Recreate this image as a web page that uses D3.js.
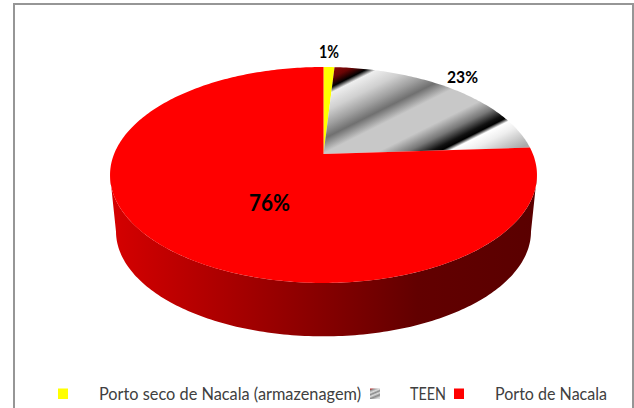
<!DOCTYPE html>
<html><head><meta charset="utf-8">
<script src="https://cdn.jsdelivr.net/npm/d3@7/dist/d3.min.js"></script>
<style>html,body{margin:0;padding:0;background:#fff}svg{display:block}text{font-family:Lato,sans-serif}</style>
</head><body><div id="c"></div>
<script>
const categories=["Porto seco de Nacala (armazenagem)","TEEN","Porto de Nacala"];
const values=[1,23,76];
const labels=["1%","23%","76%"];
const colors=["#ffff00","url(#teen)","#ff0000"];

const W=634,H=408;
const svg=d3.select("#c").append("svg").attr("width",W).attr("height",H);
const defs=svg.append("defs");

// border
svg.append("path").attr("d",`M14,${H} V4 H633 V${H}`).attr("fill","none").attr("stroke","#969696").attr("stroke-width",2);

// projection of the tilted disc
const cx=323.5,cy=154,A=103.9,B=0.1944,D=209.4;
const project=(a,z=0)=>{
  const u=Math.sin(a),v=-Math.cos(a),w=1-B*v,s=1-z*0.028;
  return [cx+D*u/w*s, cy+A*v/w*s+z*57];
};
const pie=d3.pie().sort(null).value(d=>d)(values);
const sample=(a0,a1,z=0)=>{
  const n=Math.max(2,Math.ceil(Math.abs(a1-a0)*60));
  return d3.range(n+1).map(i=>project(a0+(a1-a0)*i/n,z));
};
const line=d3.line();

// side wall
const sideGrad=defs.append("linearGradient").attr("id","side").attr("gradientUnits","userSpaceOnUse")
  .attr("x1",110).attr("x2",537).attr("y1",0).attr("y2",0);
[[0,"#d60000"],[0.72,"#620000"],[1,"#5a0000"]].forEach(s=>sideGrad.append("stop").attr("offset",s[0]).attr("stop-color",s[1]));
const a0=Math.PI/2+0.196,a1=Math.PI*1.5-0.196;
svg.append("path").attr("d",line([...sample(a0,a1,0),...sample(a1,a0,1)])+"Z").attr("fill","url(#side)");

// striped gradient for TEEN
const t0=210,t1=365,nx=0.447,ny=0.894;
const stripeStops=[[210,"#8a0808"],[218,"#6a0505"],[226,"#000000"],[231,"#eeeeee"],[245,"#d0d0d0"],[258,"#a0a0a0"],[269,"#707070"],[282,"#c8c8c8"],[305,"#c8c8c8"],[318,"#777777"],[328,"#111111"],[332,"#000000"],[336,"#ffffff"],[345,"#eeeeee"],[365,"#aaaaaa"]];
stripeStops.forEach((s,i,all)=>0);
const teenGrad=defs.append("linearGradient").attr("id","teen").attr("gradientUnits","userSpaceOnUse")
  .attr("x1",t0*nx).attr("y1",t0*ny).attr("x2",t1*nx).attr("y2",t1*ny);
stripeStops.forEach(s=>teenGrad.append("stop").attr("offset",(s[0]-t0)/(t1-t0)).attr("stop-color",s[1]));
const swatchStops=[[0,"#b03030"],[0.12,"#999999"],[0.3,"#dddddd"],[0.45,"#888888"],[0.6,"#dddddd"],[0.78,"#888888"],[1,"#dddddd"]];
const teenSwatch=defs.append("linearGradient").attr("id","teenL").attr("x1",0.2).attr("y1",0).attr("x2",0.6).attr("y2",1);
swatchStops.forEach(s=>teenSwatch.append("stop").attr("offset",s[0]).attr("stop-color",s[1]));

// top faces
svg.selectAll("path.slice").data(pie).join("path").attr("class","slice")
  .attr("d",d=>line([[cx,cy],...sample(d.startAngle,d.endAngle)])+"Z")
  .attr("fill",(d,i)=>colors[i]);

// labels
const labelPos=[[329,57.5,16.5,20],[462.5,83,17.5,31],[269.5,211,22,41]];
svg.selectAll("text.pct").data(labels).join("text").attr("class","pct")
  .attr("x",(d,i)=>labelPos[i][0]-labelPos[i][3]/2).attr("y",(d,i)=>labelPos[i][1]).attr("font-size",(d,i)=>labelPos[i][2])
  .attr("textLength",(d,i)=>labelPos[i][3]).attr("lengthAdjust","spacingAndGlyphs")
  .attr("font-weight",700).attr("fill","#000").text(d=>d);

// legend
const swatchX=[58,370,454],textX=[99,410,495],textW=[262,36,112];
const lg=svg.selectAll("g.leg").data(categories).join("g").attr("class","leg");
lg.append("rect").attr("x",(d,i)=>swatchX[i]).attr("y",388.5).attr("width",10).attr("height",10.5)
  .attr("fill",(d,i)=>i==1?"url(#teenL)":colors[i]);
lg.append("text").attr("x",(d,i)=>textX[i]).attr("y",399.5).attr("font-size",16.5).attr("fill","#404040")
  .attr("textLength",(d,i)=>textW[i]).attr("lengthAdjust","spacingAndGlyphs").text(d=>d);
</script></body></html>
